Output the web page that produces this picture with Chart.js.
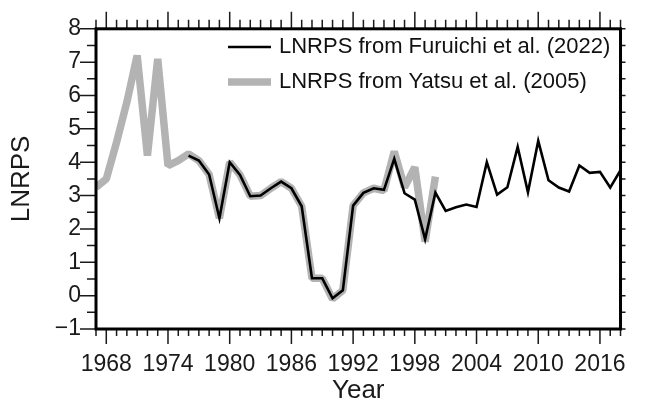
<!DOCTYPE html>
<html>
<head>
<meta charset="utf-8">
<script src="https://cdn.jsdelivr.net/npm/chart.js@4/dist/chart.umd.min.js"></script>
<style>
html,body{margin:0;padding:0;background:#fff;}
#c{display:block;}
</style>
</head>
<body>
<canvas id="c" width="648" height="403"></canvas>
<script>
// ---- data ----
const yatsuYears = [1967,1968,1969,1970,1971,1972,1973,1974,1975,1976,1977,1978,1979,1980,1981,1982,1983,1984,1985,1986,1987,1988,1989,1990,1991,1992,1993,1994,1995,1996,1997,1998,1999,2000];
const yatsuValues = [3.25,3.5,4.6,5.8,7.2,4.2,7.1,3.9,4.05,4.25,4.05,3.63,2.32,4.0,3.62,2.98,3.0,3.22,3.42,3.22,2.68,0.52,0.52,-0.1,0.16,2.7,3.08,3.22,3.15,4.32,3.25,3.85,1.62,3.57];
const furuichiYears = [1976,1977,1978,1979,1980,1981,1982,1983,1984,1985,1986,1987,1988,1989,1990,1991,1992,1993,1994,1995,1996,1997,1998,1999,2000,2001,2002,2003,2004,2005,2006,2007,2008,2009,2010,2011,2012,2013,2014,2015,2016,2017,2018];
const furuichiValues = [4.2,4.05,3.63,2.32,4.0,3.62,2.98,3.0,3.22,3.42,3.22,2.68,0.52,0.52,-0.08,0.16,2.7,3.08,3.22,3.17,4.1,3.07,2.88,1.69,3.09,2.54,2.65,2.73,2.66,4.0,3.03,3.25,4.46,3.1,4.64,3.46,3.24,3.12,3.9,3.68,3.71,3.24,3.76];
const xLabelYears = [1968,1974,1980,1986,1992,1998,2004,2010,2016];
const yTickValues = [-1,0,1,2,3,4,5,6,7,8];
const seriesLabels = ["LNRPS from Furuichi et al. (2022)", "LNRPS from Yatsu et al. (2005)"];
const xTitle = "Year";
const yTitle = "LNRPS";
const xMin = 1967, xMax = 2018, yMin = -1, yMax = 8;

const FONT = "'Liberation Sans', Arial, Helvetica, sans-serif";
const GREY = '#b3b3b3';

const toPts = (xs, ys) => xs.map((x, i) => ({x: x, y: ys[i]}));

const framePlugin = {
  id: 'frame',
  afterDraw(chart) {
    const ctx = chart.ctx;
    const a = chart.chartArea;
    const xs = chart.scales.x, ys = chart.scales.y;
    ctx.save();
    ctx.strokeStyle = '#1a1a1a';
    ctx.lineWidth = 1.5;
    ctx.beginPath();
    for (let yr = xMin; yr <= xMax; yr++) {
      const px = xs.getPixelForValue(yr);
      const major = xLabelYears.includes(yr);
      const lb = major ? 15 : 7;
      const lt = major ? 17 : 9;
      ctx.moveTo(px, a.bottom); ctx.lineTo(px, a.bottom + lb);
      ctx.moveTo(px, a.top); ctx.lineTo(px, a.top - lt);
    }
    for (let v = yMin; v <= yMax + 1e-9; v += 0.5) {
      const py = ys.getPixelForValue(v);
      const major = Math.abs(v - Math.round(v)) < 1e-9;
      const ll = major ? 16 : 9;
      ctx.moveTo(a.left, py); ctx.lineTo(a.left - ll, py);
      ctx.moveTo(a.right, py); ctx.lineTo(a.right + 5, py);
    }
    ctx.stroke();
    ctx.strokeStyle = '#000';
    ctx.lineWidth = 3;
    ctx.strokeRect(a.left, a.top, a.right - a.left, a.bottom - a.top);

    // legend
    const items = chart.data.datasets;
    const rows = [47, 82];
    const lx0 = a.left + 132, lx1 = a.left + 175, tx = a.left + 183;
    ctx.font = '22px ' + FONT;
    ctx.textBaseline = 'middle';
    ctx.textAlign = 'left';
    const order = [1, 0];
    order.forEach((di, r) => {
      const d = items[di];
      ctx.strokeStyle = d.borderColor;
      ctx.lineWidth = d.borderWidth;
      ctx.lineCap = 'butt';
      ctx.beginPath();
      ctx.moveTo(lx0, rows[r]); ctx.lineTo(lx1, rows[r]);
      ctx.stroke();
      ctx.fillStyle = '#111';
      ctx.fillText(d.label, tx, rows[r]);
    });
    ctx.restore();
  }
};

new Chart(document.getElementById('c'), {
  type: 'line',
  data: {
    datasets: [
      {
        label: seriesLabels[1],
        data: toPts(yatsuYears, yatsuValues),
        borderColor: GREY,
        backgroundColor: GREY,
        borderWidth: 7.5,
        pointRadius: 0,
        tension: 0,
        borderJoinStyle: 'bevel',
        order: 2
      },
      {
        label: seriesLabels[0],
        data: toPts(furuichiYears, furuichiValues),
        borderColor: '#000',
        backgroundColor: '#000',
        borderWidth: 2.6,
        pointRadius: 0,
        tension: 0,
        borderJoinStyle: 'miter',
        order: 1
      }
    ]
  },
  options: {
    responsive: false,
    animation: false,
    devicePixelRatio: 1,
    layout: {padding: {top: 22, right: 12, left: 0, bottom: 0}},
    plugins: {legend: {display: false}, tooltip: {enabled: false}},
    scales: {
      x: {
        type: 'linear',
        min: xMin, max: xMax,
        afterBuildTicks: s => { s.ticks = xLabelYears.map(v => ({value: v})); },
        afterFit: s => { s.height = 74; },
        grid: {display: false, drawTicks: false},
        border: {display: false},
        ticks: {
          color: '#1a1a1a',
          font: {family: FONT, size: 23},
          padding: 22,
          maxRotation: 0, minRotation: 0, autoSkip: false,
          callback: v => String(v)
        },
        title: {display: true, text: xTitle, color: '#1a1a1a', font: {family: FONT, size: 26, lineHeight: 1}, padding: {top: 0, bottom: -1}}
      },
      y: {
        type: 'linear',
        min: yMin, max: yMax,
        afterBuildTicks: s => { s.ticks = yTickValues.map(v => ({value: v})); },
        afterFit: s => { s.width = 96; },
        grid: {display: false, drawTicks: false},
        border: {display: false},
        ticks: {
          color: '#1a1a1a',
          font: {family: FONT, size: 23},
          padding: 15,
          callback: v => v < 0 ? '\u2212' + Math.abs(v) : String(v)
        },
        title: {display: true, text: yTitle, color: '#1a1a1a', font: {family: FONT, size: 26, lineHeight: 1}, padding: {top: 9, bottom: 0}}
      }
    }
  },
  plugins: [framePlugin]
});
</script>
</body>
</html>
